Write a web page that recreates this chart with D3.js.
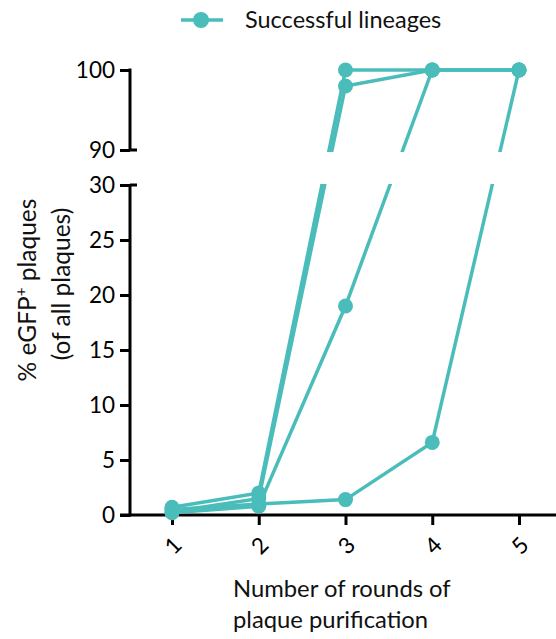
<!DOCTYPE html>
<html>
<head>
<meta charset="utf-8">
<script src="https://cdn.jsdelivr.net/npm/d3@7"></script>
<style>
  body { margin: 0; background: #fff; }
  svg { display: block; font-family: Lato, "Open Sans", sans-serif; }
</style>
</head>
<body>
<div class="chart"></div>
<script>
var rounds = [1, 2, 3, 4, 5];
var lineageA = [0.7, 2.0, 100, 100, 100];
var lineageB = [0.3, 1.5, 98, 100, 100];
var lineageC = [0.2, 0.8, 19, 100, 100];
var lineageD = [0.5, 1.0, 1.4, 6.6, 100];
var lineages = [lineageA, lineageB, lineageC, lineageD];
var lowTicks = [0, 5, 10, 15, 20, 25, 30];
var highTicks = [90, 100];
var legendLabel = "Successful lineages";

var teal = "#4abdbb";

var svg = d3.select(".chart").append("svg")
    .attr("width", 556)
    .attr("height", 639);

var x = d3.scaleLinear().domain([1, 5]).range([172, 519]);
// broken axis: 0-30 bottom panel, 90-100 top panel
var y = d3.scaleLinear().domain([0, 30, 90, 100]).range([515, 185, 150, 70]);
var yLow = d3.scaleLinear().domain([0, 30]).range([515, 185]);
var yHigh = d3.scaleLinear().domain([90, 100]).range([150, 70]);

// clip that hides the gap between the panels
var defs = svg.append("defs");
var clip = defs.append("clipPath").attr("id", "gap");
clip.append("rect").attr("x", 0).attr("y", 0).attr("width", 556).attr("height", 152);
clip.append("rect").attr("x", 0).attr("y", 184).attr("width", 556).attr("height", 400);

// axes
var axisLow = svg.append("g")
    .attr("transform", "translate(130,0)")
    .call(d3.axisLeft(yLow).tickValues(lowTicks).tickSize(10).tickPadding(5));
var axisHigh = svg.append("g")
    .attr("transform", "translate(130,0)")
    .call(d3.axisLeft(yHigh).tickValues(highTicks).tickSize(10).tickPadding(5));

[axisLow, axisHigh].forEach(function(a) {
  a.select(".domain").remove();
  a.selectAll("line").attr("stroke", "#000").attr("stroke-width", 3);
  a.selectAll("text").attr("font-size", 22.5).attr("fill", "#000")
    .attr("font-family", "Lato, 'Open Sans', sans-serif");
});

svg.append("line").attr("x1", 130).attr("x2", 130)
  .attr("y1", yLow(30)).attr("y2", yLow(0) + 1.5)
  .attr("stroke", "#000").attr("stroke-width", 3);
svg.append("line").attr("x1", 130).attr("x2", 130)
  .attr("y1", yHigh(100) - 1.5).attr("y2", yHigh(90))
  .attr("stroke", "#000").attr("stroke-width", 3);
// break marks crossing the axis
[yHigh(90), yLow(30)].forEach(function(v) {
  svg.append("line").attr("x1", 130).attr("x2", 137)
    .attr("y1", v).attr("y2", v)
    .attr("stroke", "#000").attr("stroke-width", 3);
});

var xAxis = svg.append("g")
    .attr("transform", "translate(0,515)")
    .call(d3.axisBottom(x).tickValues(rounds).tickSize(10).tickFormat(d3.format("d")));
xAxis.select(".domain").remove();
xAxis.selectAll("line").attr("stroke", "#000").attr("stroke-width", 3);
xAxis.selectAll("text")
  .attr("font-size", 22.5).attr("fill", "#000")
  .attr("font-family", "Lato, 'Open Sans', sans-serif")
  .attr("text-anchor", "middle")
  .attr("dy", null)
  .attr("y", 0)
  .attr("dominant-baseline", "central")
  .attr("transform", "translate(0,30) rotate(-45)");
svg.append("line").attr("x1", 120).attr("x2", 556)
  .attr("y1", 515).attr("y2", 515)
  .attr("stroke", "#000").attr("stroke-width", 3);

// series
var line = d3.line()
  .x(function(d, i) { return x(rounds[i]); })
  .y(function(d) { return y(d); });

var plot = svg.append("g");
plot.selectAll("path.series").data(lineages).enter().append("path")
  .attr("class", "series")
  .attr("d", line)
  .attr("fill", "none")
  .attr("stroke", teal)
  .attr("stroke-width", 3.5)
  .attr("clip-path", "url(#gap)");

lineages.forEach(function(s) {
  plot.selectAll(null).data(s).enter().append("circle")
    .attr("cx", function(d, i) { return x(rounds[i]); })
    .attr("cy", function(d) { return y(d); })
    .attr("r", 7.5)
    .attr("fill", teal);
});

// legend
svg.append("line").attr("x1", 181).attr("x2", 223)
  .attr("y1", 20).attr("y2", 20)
  .attr("stroke", teal).attr("stroke-width", 3.5);
svg.append("circle").attr("cx", 201).attr("cy", 20).attr("r", 8).attr("fill", teal);
svg.append("text").attr("x", 245).attr("y", 28)
  .attr("font-size", 23.5).attr("fill", "#111")
  .text(legendLabel);

// axis titles
var yTitle = svg.append("text")
  .attr("transform", "translate(36,290) rotate(-90)")
  .attr("text-anchor", "middle")
  .attr("font-size", 24.5).attr("fill", "#111");
yTitle.append("tspan").text("% eGFP");
yTitle.append("tspan").attr("font-size", 15).attr("dy", -10).text("+");
yTitle.append("tspan").attr("dy", 10).text(" plaques");
svg.append("text")
  .attr("transform", "translate(70,284) rotate(-90)")
  .attr("text-anchor", "middle")
  .attr("font-size", 24.5).attr("fill", "#111")
  .text("(of all plaques)");

svg.append("text").attr("x", 233).attr("y", 597)
  .attr("font-size", 23.8).attr("fill", "#111")
  .text("Number of rounds of");
svg.append("text").attr("x", 233).attr("y", 628)
  .attr("font-size", 23.8).attr("fill", "#111")
  .text("plaque purification");
</script>
</body>
</html>
